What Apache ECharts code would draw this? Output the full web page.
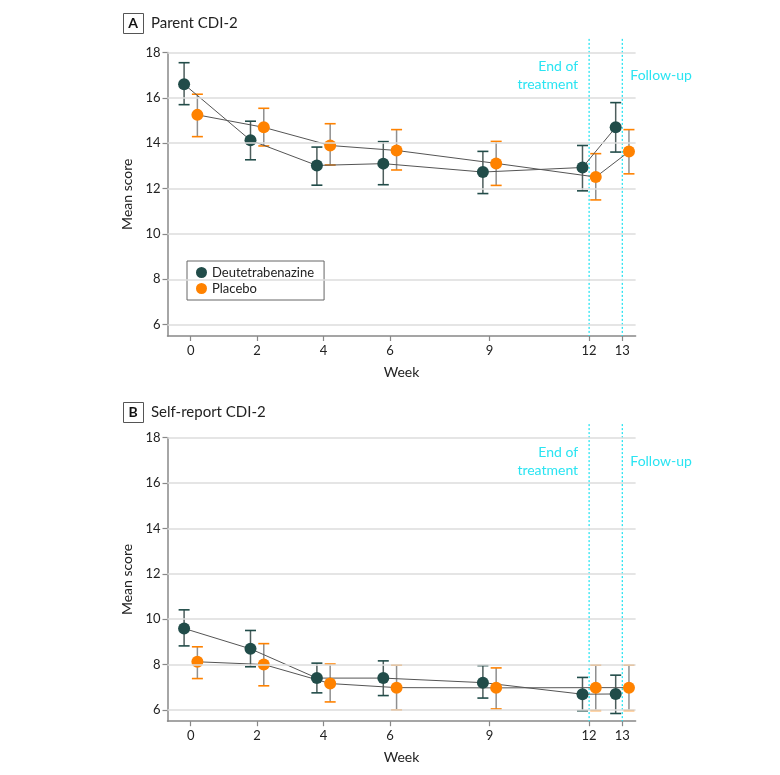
<!DOCTYPE html>
<html>
<head>
<meta charset="utf-8">
<script src="https://cdn.jsdelivr.net/npm/echarts@6/dist/echarts.min.js"></script>
<style>html,body{margin:0;padding:0;background:#fff;}#c{width:780px;height:775px;}</style>
</head>
<body>
<div id="c"></div>
<script>
// ---- data ----
const weeks = [0, 2, 4, 6, 9, 12, 13];
const xTicks = [0, 2, 4, 6, 9, 12, 13];
const yTicks = [6, 8, 10, 12, 14, 16, 18];
const seriesNames = ['Deutetrabenazine', 'Placebo'];
const panelTitles = ['Parent CDI-2', 'Self-report CDI-2'];
const panelLetters = ['A', 'B'];
const annotWeeks = [12, 13];
const annotLabels = ['End of\ntreatment', 'Follow-up'];

const aDeutMean = [16.6, 14.13, 13.02, 13.1, 12.73, 12.93, 14.7];
const aDeutLow  = [15.7, 13.27, 12.15, 12.17, 11.78, 11.9, 13.61];
const aDeutHigh = [17.55, 14.97, 13.83, 14.07, 13.64, 13.9, 15.79];
const aPlacMean = [15.25, 14.7, 13.9, 13.68, 13.11, 12.51, 13.63];
const aPlacLow  = [14.29, 13.88, 13.04, 12.82, 12.14, 11.5, 12.65];
const aPlacHigh = [16.16, 15.54, 14.86, 14.6, 14.08, 13.54, 14.6];

const bDeutMean = [9.59, 8.69, 7.4, 7.4, 7.2, 6.69, 6.7];
const bDeutLow  = [8.82, 7.9, 6.75, 6.63, 6.52, 5.96, 5.84];
const bDeutHigh = [10.41, 9.5, 8.06, 8.16, 7.95, 7.43, 7.53];
const bPlacMean = [8.12, 8.0, 7.16, 6.98, 6.97, 6.98, 6.98];
const bPlacLow  = [7.38, 7.06, 6.35, 6.0, 6.04, 5.97, 5.97];
const bPlacHigh = [8.78, 8.92, 8.02, 7.97, 7.85, 7.97, 7.97];

// ---- style ----
const FONT = 'Lato, "Noto Sans", sans-serif';
const DEUT = '#214c49', PLAC = '#ff8200';
const CYAN = '#2ae4f2';
const DODGE = 0.2;

const panels = [
  {deut: [aDeutMean, aDeutLow, aDeutHigh], plac: [aPlacMean, aPlacLow, aPlacHigh]},
  {deut: [bDeutMean, bDeutLow, bDeutHigh], plac: [bPlacMean, bPlacLow, bPlacHigh]}
];

function errRender(stemColor, capColor) {
  return function (params, api) {
    const x = api.value(0), lo = api.value(1), hi = api.value(2);
    const pLo = api.coord([x, lo]), pHi = api.coord([x, hi]);
    const hw = 5.5;
    return {type: 'group', children: [
      {type: 'line', shape: {x1: pLo[0], y1: pLo[1], x2: pHi[0], y2: pHi[1]}, style: {stroke: stemColor, lineWidth: 1.5}},
      {type: 'line', shape: {x1: pHi[0] - hw, y1: pHi[1], x2: pHi[0] + hw, y2: pHi[1]}, style: {stroke: capColor, lineWidth: 1.6}},
      {type: 'line', shape: {x1: pLo[0] - hw, y1: pLo[1], x2: pLo[0] + hw, y2: pLo[1]}, style: {stroke: capColor, lineWidth: 1.6}}
    ]};
  };
}

function annotRender(params, api) {
  const w = api.value(0);
  const top = api.coord([w, 18.6]);
  const bot = api.coord([w, 5.5]);
  const txtPt = api.coord([w, 16.97]);
  const i = params.dataIndex;
  const left = i === 0;
  return {type: 'group', children: [
    {type: 'line', shape: {x1: top[0], y1: top[1], x2: bot[0], y2: bot[1]},
      style: {stroke: CYAN, lineWidth: 1.3, lineDash: [2, 2]}},
    {type: 'text', style: {text: annotLabels[i], x: left ? txtPt[0] - 11 : txtPt[0] + 8, y: txtPt[1],
      align: left ? 'right' : 'left', verticalAlign: 'middle', fill: CYAN,
      fontSize: 14, lineHeight: 18, fontFamily: FONT}}
  ]};
}

const gridTops = [52.5, 437.7];
const grids = [], xAxes = [], yAxes = [], series = [];
panels.forEach((p, k) => {
  grids.push({left: 167.5, width: 468.1, top: gridTops[k], height: 283.5});
  xAxes.push({
    type: 'value', gridIndex: k, min: -0.7, max: 13.4,
    name: 'Week', nameLocation: 'middle', nameGap: 29,
    nameTextStyle: {fontSize: 14, color: '#222', fontFamily: FONT},
    axisLine: {onZero: false, lineStyle: {color: '#888', width: 1.5}},
    axisTick: {show: true, length: 5, customValues: xTicks, lineStyle: {color: '#888', width: 1.2}},
    axisLabel: {customValues: xTicks, fontSize: 13, color: '#222', margin: 8, fontFamily: FONT},
    splitLine: {show: false}
  });
  yAxes.push({
    type: 'value', gridIndex: k, min: 5.5, max: 18,
    name: 'Mean score', nameLocation: 'middle', nameGap: 28,
    nameTextStyle: {fontSize: 14, color: '#222', fontFamily: FONT},
    axisLine: {show: true, onZero: false, lineStyle: {color: '#888', width: 1.5}},
    axisTick: {show: true, length: 5, customValues: yTicks, lineStyle: {color: '#888', width: 1.2}},
    axisLabel: {customValues: yTicks, fontSize: 13, color: '#222', margin: 7, fontFamily: FONT},
    splitLine: {show: false}
  });
  // gridlines
  series.push({
    type: 'line', xAxisIndex: k, yAxisIndex: k, data: [], silent: true, z: 1,
    markLine: {silent: true, symbol: 'none', label: {show: false}, animation: false,
      lineStyle: {color: '#dcdcdc', width: 1.5, type: 'solid'},
      data: yTicks.map(v => ({yAxis: v}))}
  });
  // vertical annotations
  series.push({
    type: 'custom', xAxisIndex: k, yAxisIndex: k, clip: false, silent: true, z: 2,
    renderItem: annotRender, data: annotWeeks.map(w => [w])
  });
  // error bars
  series.push({
    type: 'custom', xAxisIndex: k, yAxisIndex: k, z: 3, silent: true,
    renderItem: errRender('#4e5e5d', DEUT), encode: {x: 0, y: [1, 2]},
    data: weeks.map((w, i) => [w - DODGE, p.deut[1][i], p.deut[2][i]])
  });
  series.push({
    type: 'custom', xAxisIndex: k, yAxisIndex: k, z: 3, silent: true,
    renderItem: errRender('#8f8f8f', PLAC), encode: {x: 0, y: [1, 2]},
    data: weeks.map((w, i) => [w + DODGE, p.plac[1][i], p.plac[2][i]])
  });
  // lines + markers
  series.push({
    name: seriesNames[0], type: 'line', xAxisIndex: k, yAxisIndex: k, z: 4,
    symbol: 'circle', symbolSize: 12, itemStyle: {color: DEUT},
    lineStyle: {color: '#555', width: 1}, animation: false,
    data: weeks.map((w, i) => [w - DODGE, p.deut[0][i]])
  });
  series.push({
    name: seriesNames[1], type: 'line', xAxisIndex: k, yAxisIndex: k, z: 4,
    symbol: 'circle', symbolSize: 12, itemStyle: {color: PLAC},
    lineStyle: {color: '#555', width: 1}, animation: false,
    data: weeks.map((w, i) => [w + DODGE, p.plac[0][i]])
  });
});

const graphics = [];
[13, 402].forEach((y0, k) => {
  graphics.push({type: 'rect', left: 123, top: y0, shape: {width: 20, height: 20},
    style: {fill: '#fff', stroke: '#555', lineWidth: 1}});
  graphics.push({type: 'text', x: 133, y: y0 + 10.5,
    style: {text: panelLetters[k], align: 'center', verticalAlign: 'middle', fontSize: 14, fontWeight: 'bold', fill: '#111', fontFamily: FONT}});
  graphics.push({type: 'text', x: 151, y: y0 + 10.5,
    style: {text: panelTitles[k], align: 'left', verticalAlign: 'middle', fontSize: 15, fill: '#222', fontFamily: FONT}});
});

const chart = echarts.init(document.getElementById('c'), null, {renderer: 'canvas'});
chart.setOption({
  backgroundColor: '#fff',
  animation: false,
  textStyle: {fontFamily: FONT},
  grid: grids, xAxis: xAxes, yAxis: yAxes, series: series,
  legend: {
    data: seriesNames, left: 187, top: 261, orient: 'vertical',
    icon: 'circle', itemWidth: 11, itemHeight: 11, itemGap: 3, itemTextGap: 7,
    padding: [5, 10, 5, 9], borderColor: '#666', borderWidth: 1,
    textStyle: {fontSize: 13, color: '#222', fontFamily: FONT}
  },
  graphic: graphics
});
</script>
</body>
</html>
